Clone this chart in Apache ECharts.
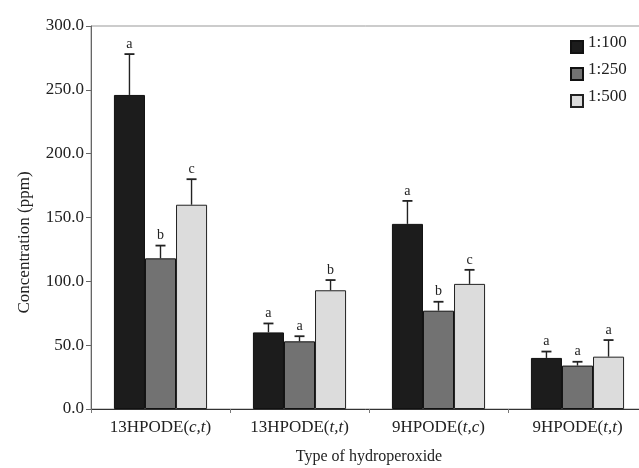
<!DOCTYPE html>
<html>
<head>
<meta charset="utf-8">
<script src="https://cdn.jsdelivr.net/npm/echarts@6/dist/echarts.min.js"></script>
<style>html,body{margin:0;padding:0;background:#fff;}#c{width:639px;height:468px;}</style>
</head>
<body>
<div id="c"></div>
<script>
// ---- data ----
const categories = ['13HPODE(c,t)', '13HPODE(t,t)', '9HPODE(t,c)', '9HPODE(t,t)'];
const seriesNames = ['1:100', '1:250', '1:500'];
const values100 = [246, 60, 145, 40];
const values250 = [118, 53, 77, 34];
const values500 = [160, 93, 98, 41];
const err100 = [32, 7, 18, 5];
const err250 = [10, 4, 7, 3];
const err500 = [20, 8, 11, 13];
const letters100 = ['a', 'a', 'a', 'a'];
const letters250 = ['b', 'a', 'b', 'a'];
const letters500 = ['c', 'b', 'c', 'a'];
const yTicks = [0, 50, 100, 150, 200, 250, 300];

const values = [values100, values250, values500];
const errs = [err100, err250, err500];
const letters = [letters100, letters250, letters500];
const colors = ['#1c1c1c', '#727272', '#dcdcdc'];
const catGap = 0.33;

const serif = '"Liberation Serif", "DejaVu Serif", serif';
const chart = echarts.init(document.getElementById('c'));

function errSeries(si) {
  return {
    type: 'custom',
    name: 'err' + si,
    z: 5,
    data: categories.map((c, i) => [i, values[si][i], values[si][i] + errs[si][i], letters[si][i]]),
    renderItem: function (params, api) {
      const band = api.size([1, 0])[0];
      const bw = band * (1 - catGap) / 3;
      const off = (si - 1) * bw;
      const base = api.coord([api.value(0), api.value(1)]);
      const top = api.coord([api.value(0), api.value(2)]);
      const x = base[0] + off;
      const cap = 5;
      return {
        type: 'group',
        children: [
          { type: 'line', shape: { x1: x, y1: base[1], x2: x, y2: top[1] }, style: { stroke: '#222', lineWidth: 1.4 } },
          { type: 'line', shape: { x1: x - cap, y1: top[1], x2: x + cap, y2: top[1] }, style: { stroke: '#222', lineWidth: 1.8 } },
          { type: 'text', style: { x: x, y: top[1] - 3, text: letters[si][params.dataIndex], align: 'center', verticalAlign: 'bottom', font: '14px ' + serif, fill: '#222' } }
        ]
      };
    }
  };
}

function fmtCat(v) {
  const m = v.match(/^(.*)\((.*)\)$/);
  return m[1] + '(' + '{i|' + m[2] + '}' + ')';
}

chart.setOption({
  animation: false,
  grid: { left: 91, top: 26, width: 556, height: 383, show: true, borderColor: '#999', borderWidth: 1, containLabel: false, outerBoundsMode: 'none' },
  legend: {
    data: seriesNames,
    orient: 'vertical',
    left: 570,
    top: 34,
    padding: 0,
    icon: 'rect',
    itemWidth: 12,
    itemHeight: 12,
    itemGap: 7,
    formatter: n => '{t|' + n + '}',
    textStyle: { fontFamily: serif, fontSize: 17, color: '#222',
      rich: { t: { fontFamily: serif, fontSize: 17, color: '#222', padding: [0, 0, 9, 0] } } }
  },
  xAxis: {
    type: 'category',
    data: categories,
    name: 'Type of hydroperoxide',
    nameLocation: 'middle',
    nameGap: 40,
    nameTextStyle: { fontFamily: serif, fontSize: 16, color: '#222' },
    axisLine: { lineStyle: { color: '#333', width: 1 } },
    axisTick: { show: true, length: 4, lineStyle: { color: '#777' } },
    axisLabel: {
      interval: 0,
      margin: 10,
      fontFamily: serif, fontSize: 17, color: '#222',
      formatter: fmtCat,
      rich: { i: { fontFamily: serif, fontSize: 17, fontStyle: 'italic', color: '#222' } }
    }
  },
  yAxis: {
    type: 'value',
    min: yTicks[0],
    max: yTicks[yTicks.length - 1],
    interval: yTicks[1] - yTicks[0],
    name: 'Concentration (ppm)',
    nameLocation: 'middle',
    nameGap: 58,
    nameTextStyle: { fontFamily: serif, fontSize: 17, color: '#222', padding: [0, 50, 0, 0] },
    axisLine: { show: true, lineStyle: { color: '#666', width: 1 } },
    axisTick: { show: true, length: 5, lineStyle: { color: '#666' } },
    splitLine: { show: false },
    axisLabel: { margin: 7, fontFamily: serif, fontSize: 17, color: '#222', formatter: v => v.toFixed(1) }
  },
  series: [
    { type: 'bar', name: seriesNames[0], data: values100, barGap: '0%', barCategoryGap: '33%', itemStyle: { color: colors[0], borderColor: '#111', borderWidth: 1 } },
    { type: 'bar', name: seriesNames[1], data: values250, barGap: '0%', barCategoryGap: '33%', itemStyle: { color: colors[1], borderColor: '#111', borderWidth: 1 } },
    { type: 'bar', name: seriesNames[2], data: values500, barGap: '0%', barCategoryGap: '33%', itemStyle: { color: colors[2], borderColor: '#222', borderWidth: 1 } },
    errSeries(0), errSeries(1), errSeries(2)
  ]
});
</script>
</body>
</html>
